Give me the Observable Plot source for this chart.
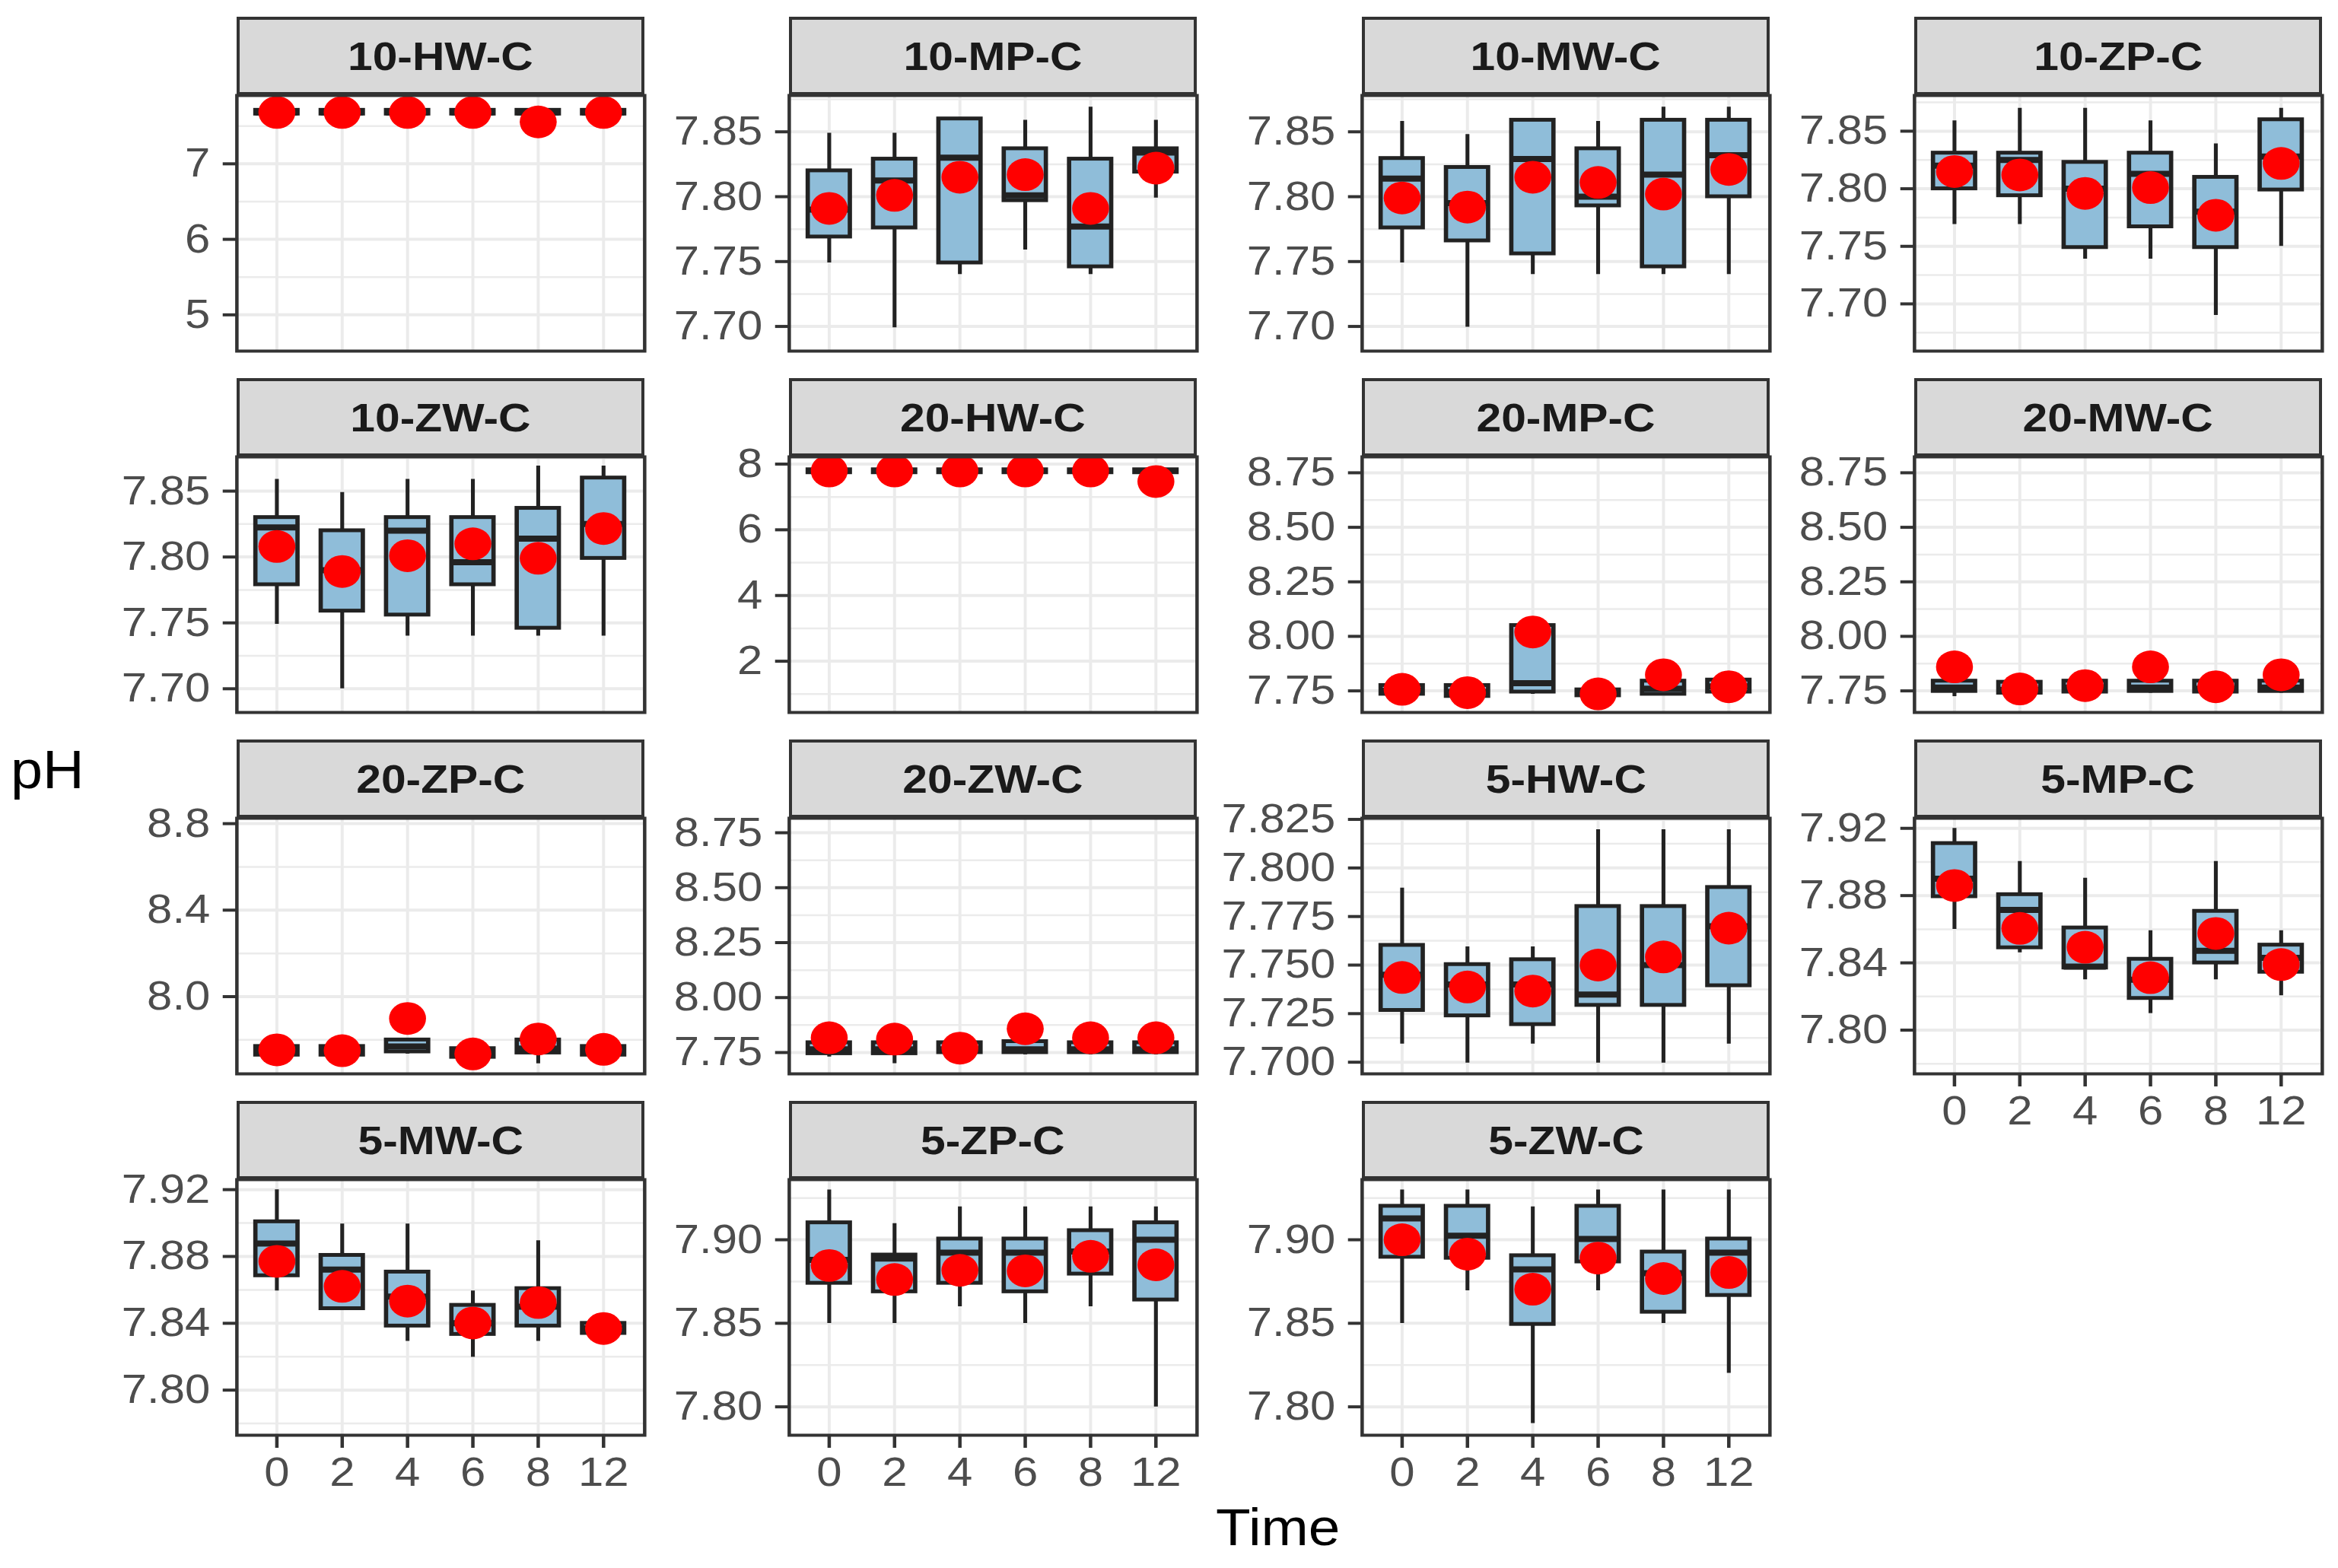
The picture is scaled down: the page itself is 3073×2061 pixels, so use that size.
<!DOCTYPE html>
<html><head><meta charset="utf-8">
<script src="https://cdn.jsdelivr.net/npm/d3@7"></script>
<script src="https://cdn.jsdelivr.net/npm/@observablehq/plot@0.6"></script>
<style>
html,body{margin:0;padding:0;background:#fff;}
#chart{position:relative;width:3073px;height:2061px;font-family:"Liberation Sans",Arial,sans-serif;overflow:hidden;background:#fff;}
.strip{position:absolute;box-sizing:border-box;background:#D9D9D9;border:4px solid #333333;display:flex;align-items:center;justify-content:center;}
.strip span{display:inline-block;transform:scaleX(1.13);font-weight:bold;font-size:52px;color:#1A1A1A;}
.panel{position:absolute;transform-origin:0 0;}
.title{position:absolute;color:#000;transform-origin:0 0;white-space:nowrap;}
</style></head><body><div id="chart"></div>
<script>
// ---------------- data ----------------
const panelNames = ["10-HW-C","10-MP-C","10-MW-C","10-ZP-C",
                    "10-ZW-C","20-HW-C","20-MP-C","20-MW-C",
                    "20-ZP-C","20-ZW-C","5-HW-C","5-MP-C",
                    "5-MW-C","5-ZP-C","5-ZW-C"];
const times = ["0","2","4","6","8","12"];

const whiskerLow = [
  [7.64,7.64,7.64,7.64,7.64,7.64],
  [7.749,7.699,7.740,7.759,7.740,7.799],
  [7.749,7.6995,7.740,7.740,7.740,7.740],
  [7.769,7.769,7.739,7.739,7.690,7.750],
  [7.749,7.700,7.740,7.740,7.740,7.740],
  [7.70,7.70,7.70,7.70,7.70,7.70],
  [7.73,7.71,7.735,7.72,7.73,7.74],
  [7.724,7.73,7.735,7.74,7.735,7.74],
  [7.72,7.72,7.735,7.71,7.69,7.72],
  [7.73,7.70,7.74,7.74,7.74,7.74],
  [7.7094,7.6996,7.7094,7.6996,7.6996,7.7094],
  [7.860,7.846,7.830,7.8099,7.830,7.8205],
  [7.8594,7.848,7.8292,7.8197,7.8292,7.833],
  [7.8499,7.8499,7.860,7.8499,7.860,7.800],
  [7.8499,7.8695,7.790,7.8695,7.8499,7.8201]
];
const boxQ1 = [
  [7.66,7.66,7.66,7.66,7.66,7.66],
  [7.769,7.776,7.749,7.797,7.746,7.819],
  [7.776,7.766,7.756,7.793,7.746,7.800],
  [7.800,7.794,7.749,7.767,7.749,7.799],
  [7.779,7.759,7.756,7.779,7.746,7.799],
  [7.74,7.74,7.74,7.74,7.74,7.74],
  [7.735,7.725,7.745,7.728,7.735,7.745],
  [7.748,7.74,7.745,7.748,7.745,7.748],
  [7.73,7.73,7.745,7.72,7.74,7.73],
  [7.745,7.745,7.75,7.75,7.75,7.75],
  [7.7267,7.7239,7.7194,7.7293,7.7293,7.7394],
  [7.8794,7.849,7.837,7.8189,7.840,7.8345],
  [7.8685,7.8488,7.8384,7.8334,7.8384,7.834],
  [7.874,7.8689,7.874,7.8689,7.8795,7.864],
  [7.8896,7.889,7.8494,7.8868,7.8567,7.8667]
];
const boxMedian = [
  [7.68,7.68,7.68,7.68,7.68,7.68],
  [7.790,7.8125,7.830,7.801,7.777,7.834],
  [7.814,7.795,7.829,7.800,7.817,7.832],
  [7.820,7.825,7.800,7.813,7.780,7.828],
  [7.8225,7.790,7.820,7.796,7.814,7.825],
  [7.79,7.79,7.79,7.79,7.79,7.79],
  [7.75,7.745,7.785,7.74,7.76,7.77],
  [7.765,7.755,7.765,7.765,7.76,7.765],
  [7.75,7.75,7.77,7.74,7.76,7.75],
  [7.765,7.765,7.765,7.765,7.765,7.765],
  [7.745,7.740,7.740,7.7348,7.750,7.770],
  [7.890,7.8715,7.8378,7.830,7.8472,7.843],
  [7.8877,7.8721,7.856,7.840,7.850,7.837],
  [7.888,7.8887,7.8923,7.8923,7.893,7.900],
  [7.9128,7.9024,7.8823,7.9005,7.880,7.8923]
];
const boxQ3 = [
  [7.71,7.71,7.71,7.71,7.71,7.71],
  [7.820,7.829,7.860,7.837,7.829,7.837],
  [7.8295,7.8226,7.859,7.837,7.859,7.859],
  [7.831,7.831,7.823,7.831,7.810,7.860],
  [7.830,7.820,7.830,7.830,7.837,7.860],
  [7.83,7.83,7.83,7.83,7.83,7.83],
  [7.775,7.775,8.05,7.755,7.795,7.80],
  [7.795,7.79,7.795,7.795,7.795,7.795],
  [7.77,7.77,7.80,7.76,7.80,7.77],
  [7.795,7.795,7.795,7.80,7.795,7.795],
  [7.7602,7.7503,7.7528,7.7802,7.7802,7.790],
  [7.911,7.8806,7.8608,7.8422,7.8707,7.8506],
  [7.9008,7.8807,7.8707,7.8508,7.8608,7.840],
  [7.9102,7.8909,7.9005,7.9005,7.9055,7.9102],
  [7.9201,7.9201,7.8905,7.9201,7.8927,7.9005]
];
const whiskerHigh = [
  [7.73,7.73,7.73,7.73,7.73,7.73],
  [7.849,7.849,7.861,7.859,7.869,7.859],
  [7.858,7.848,7.859,7.858,7.869,7.869],
  [7.859,7.870,7.870,7.859,7.839,7.870],
  [7.859,7.849,7.859,7.859,7.869,7.869],
  [7.86,7.86,7.86,7.86,7.86,7.86],
  [7.78,7.785,8.05,7.76,7.80,7.805],
  [7.80,7.795,7.80,7.80,7.80,7.80],
  [7.775,7.775,7.805,7.765,7.805,7.775],
  [7.80,7.80,7.80,7.805,7.80,7.80],
  [7.7897,7.7594,7.7594,7.8197,7.8197,7.8197],
  [7.920,7.9003,7.8904,7.8592,7.9003,7.8592],
  [7.920,7.8995,7.8995,7.8594,7.8895,7.841],
  [7.9298,7.9097,7.9197,7.9197,7.9197,7.9197],
  [7.9298,7.9298,7.9197,7.9298,7.9298,7.9298]
];
const meanPH = [
  [7.68,7.68,7.68,7.68,7.555,7.68],
  [7.791,7.801,7.815,7.817,7.791,7.822],
  [7.799,7.792,7.815,7.811,7.802,7.821],
  [7.815,7.812,7.796,7.801,7.777,7.822],
  [7.808,7.789,7.801,7.810,7.799,7.8216],
  [7.79,7.79,7.79,7.79,7.79,7.47],
  [7.757,7.742,8.020,7.736,7.824,7.769],
  [7.860,7.759,7.774,7.860,7.769,7.824],
  [7.754,7.750,7.899,7.735,7.804,7.756],
  [7.817,7.811,7.770,7.858,7.817,7.817],
  [7.7436,7.7387,7.7366,7.750,7.7542,7.769],
  [7.886,7.8605,7.8493,7.8312,7.8575,7.839],
  [7.8771,7.8621,7.8533,7.8402,7.8524,7.8369],
  [7.8846,7.8762,7.8817,7.8814,7.8901,7.885],
  [7.900,7.8914,7.8704,7.889,7.8768,7.8804]
];
const yDomains = [
  [4.52,7.905],[7.681,7.878],[7.681,7.878],[7.659,7.881],
  [7.682,7.876],[0.44,8.22],[7.651,8.823],[7.651,8.823],
  [7.643,8.825],[7.653,8.816],[7.694,7.8256],[7.774,7.926],
  [7.773,7.926],[7.783,7.936],[7.783,7.936]
];
const yTickLabels = [
  ["5","6","7"],
  ["7.70","7.75","7.80","7.85"],
  ["7.70","7.75","7.80","7.85"],
  ["7.70","7.75","7.80","7.85"],
  ["7.70","7.75","7.80","7.85"],
  ["2","4","6","8"],
  ["7.75","8.00","8.25","8.50","8.75"],
  ["7.75","8.00","8.25","8.50","8.75"],
  ["8.0","8.4","8.8"],
  ["7.75","8.00","8.25","8.50","8.75"],
  ["7.700","7.725","7.750","7.775","7.800","7.825"],
  ["7.80","7.84","7.88","7.92"],
  ["7.80","7.84","7.88","7.92"],
  ["7.80","7.85","7.90"],
  ["7.80","7.85","7.90"]
];
const xTitle = "Time";
const yTitle = "pH";

// ---------------- layout ----------------
const S = 1.13;                       // horizontal stretch of the original picture
const colLeft = [311, 1037, 1790, 2516];
const stripTop = [22, 497, 972, 1447];
const stripH = 103, panelH = 336, panelW = 536;
const mL = 160, mR = 4, mT = 4, mB = 4, mBaxis = 100;
const boxFill = "#8FBDD9", lineCol = "#222222";

const chart = document.getElementById("chart");

panelNames.forEach((name, i) => {
  const row = Math.floor(i / 4), col = i % 4;
  const hasX = i >= 11;
  const rows = times.map((t, j) => ({
    time: t, lo: whiskerLow[i][j], q1: boxQ1[i][j], med: boxMedian[i][j],
    q3: boxQ3[i][j], hi: whiskerHigh[i][j], mean: meanPH[i][j]
  }));
  const labels = yTickLabels[i];
  const tickVals = labels.map(Number);
  const step = tickVals[1] - tickVals[0];
  const [d0, d1] = yDomains[i];
  const minor = [];
  for (let k = -1; k < tickVals.length; k++) {
    const v = tickVals[0] + (k + 0.5) * step;
    if (v > d0 && v < d1) minor.push(v);
  }

  // strip
  const strip = document.createElement("div");
  strip.className = "strip";
  strip.style.left = colLeft[col] + "px";
  strip.style.top = stripTop[row] + "px";
  strip.style.width = panelW + "px";
  strip.style.height = stripH + "px";
  strip.innerHTML = `<span>${name}</span>`;
  chart.appendChild(strip);

  const marginBottom = hasX ? mBaxis : mB;
  const marks = [
    Plot.ruleY(minor, {stroke: "#EBEBEB", strokeWidth: 2.5, clip: true}),
    Plot.gridY(tickVals, {stroke: "#EBEBEB", strokeOpacity: 1, strokeWidth: 4}),
    Plot.gridX(times, {stroke: "#EBEBEB", strokeOpacity: 1, strokeWidth: 3.5}),
    Plot.ruleX(rows, {x: "time", y1: "lo", y2: "hi", stroke: lineCol, strokeWidth: 4.5, clip: true}),
    Plot.barY(rows, {x: "time", y1: "q1", y2: "q3", fill: boxFill, stroke: lineCol, strokeWidth: 5, clip: true}),
    Plot.tickY(rows, {x: "time", y: "med", stroke: lineCol, strokeWidth: 8, clip: true}),
    Plot.dot(rows, {x: "time", y: "mean", r: 21.5, fill: "#FF0000", stroke: "none", clip: true}),
    Plot.frame({stroke: "#333333", strokeWidth: 4}),
    Plot.axisY(tickVals, {
      anchor: "left", label: null, tickSize: 16, tickPadding: 15, fontSize: 53,
      fill: "#4D4D4D", stroke: "#333333", strokeWidth: 4,
      tickFormat: (d) => labels[tickVals.indexOf(d)]
    })
  ];
  if (hasX) {
    marks.push(Plot.axisX(times, {
      anchor: "bottom", label: null, tickSize: 17, tickPadding: 12, fontSize: 53,
      fill: "#4D4D4D", stroke: "#333333", strokeWidth: 4
    }));
  }

  const svg = Plot.plot({
    width: mL + panelW / S + mR,
    height: mT + panelH + marginBottom,
    marginLeft: mL, marginRight: mR, marginTop: mT, marginBottom,
    x: {type: "band", domain: times, paddingInner: 0.35, paddingOuter: 0.275, label: null, ...(hasX ? {} : {axis: null})},
    y: {domain: yDomains[i], label: null},
    style: {fontFamily: "Liberation Sans, Arial, sans-serif", background: "transparent", overflow: "visible"},
    marks
  });
  svg.classList.add("panel");
  svg.style.left = (colLeft[col] - mL * S) + "px";
  svg.style.top = (stripTop[row] + stripH - mT) + "px";
  svg.style.transform = `scaleX(${S})`;
  chart.appendChild(svg);
});

// axis titles
const yT = document.createElement("div");
yT.className = "title";
yT.textContent = yTitle;
yT.style.fontSize = "70px";
yT.style.left = "14px";
yT.style.top = "972px";
yT.style.transform = "scaleX(1.08)";
chart.appendChild(yT);

const xT = document.createElement("div");
xT.className = "title";
xT.textContent = xTitle;
xT.style.fontSize = "68px";
xT.style.left = "1598px";
xT.style.top = "1968px";
xT.style.transform = "scaleX(1.1)";
chart.appendChild(xT);
</script></body></html>
